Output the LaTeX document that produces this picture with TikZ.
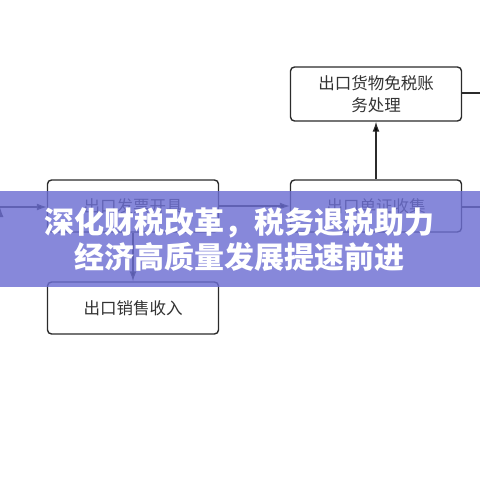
\documentclass[tikz,border=0pt]{standalone}
\usepackage{fontspec}
\newfontfamily\cjk{Noto Sans CJK SC}
\usetikzlibrary{arrows.meta, positioning}
\definecolor{boxline}{HTML}{2B2B2B}
\definecolor{boxtext}{HTML}{333333}
\definecolor{banner}{RGB}{108,110,210}

\begin{document}
\begin{tikzpicture}[x=1pt, y=-1pt, >={Latex[length=10pt, width=7pt]}]
				\tikzstyle{flowbox} = [draw=boxline, line width=1.4pt, rounded corners=4pt, fill=white,
				                       minimum width=171pt, minimum height=52pt, inner sep=0pt,
				                       font=\cjk\fontsize{16.5}{22}\selectfont, text=boxtext, align=center]
				\tikzstyle{link}    = [draw=boxline, line width=1.2pt]

				\useasboundingbox (0,0) rectangle (480,480);

				\node[flowbox, minimum height=54pt] at (376, 94)  (account) {出口货物免税账\\务处理};
				\node[flowbox]                      at (133, 206) (invoice) {出口发票开具};
				\node[flowbox]                      at (376, 206) (docs)    {出口单证收集};
				\node[flowbox]                      at (133, 308) (sales)   {出口销售收入};

				\coordinate (start)   at (0, 207);
				\coordinate (docsout) at (480, 207);
				\coordinate (accout)  at (480, 93);

				\path[link, ->]
				(start)   edge (start -| invoice.west)
				(invoice) edge (docs)
				(docs)    edge (account)
				(invoice) edge (sales);
				\path[link]
				(docs.east |- docsout)   edge (docsout)
				(account.east |- accout) edge (accout);

				% banner on top
				\fill[banner, fill opacity=0.82] (0,191) rectangle (480,287);
				\node[font=\cjk\bfseries\fontsize{30}{35}\selectfont, text=white, align=center]
				      at (240, 240) (title) {深化财税改革，税务退税助力\\经济高质量发展提速前进};
\end{tikzpicture}
\end{document}
